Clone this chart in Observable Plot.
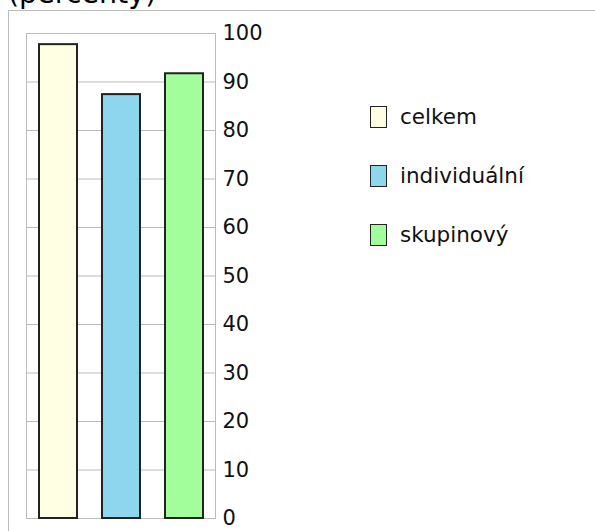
<!DOCTYPE html>
<html>
<head>
<meta charset="utf-8">
<script src="https://cdn.jsdelivr.net/npm/d3@7"></script>
<script src="https://cdn.jsdelivr.net/npm/@observablehq/plot@0.6"></script>
<style>
  html, body { margin: 0; padding: 0; background: #fff; }
  body { width: 595px; height: 531px; overflow: hidden; position: relative; font-family: "DejaVu Sans", Verdana, sans-serif; }
  #title { position: absolute; left: 8px; top: -21px; font-size: 28.5px; line-height: 30px; white-space: nowrap; color: #000; }
  #frame { position: absolute; left: 8px; top: 10px; width: 600px; height: 540px; border-left: 1px solid #bbb; border-top: 1px solid #bbb; box-sizing: border-box; }
  #chart { position: absolute; left: 0; top: 0; }
  .leg { position: absolute; left: 370px; display: flex; align-items: center; font-size: 21.5px; color: #111; }
  .sw { width: 15px; height: 20px; border: 1.6px solid #222; margin-right: 13px; }
</style>
</head>
<body>
<div id="title">(percenty)</div>
<div id="frame"></div>
<div id="chart"></div>
<div id="legend"></div>
<script>
const categories = ["celkem", "individuální", "skupinový"];
const values = [97.7, 87.4, 91.7];
const colors = ["#ffffe4", "#8dd6ee", "#a2fe9a"];
const yTicks = [0, 10, 20, 30, 40, 50, 60, 70, 80, 90, 100];

const data = categories.map((c, i) => ({category: c, value: values[i]}));

const chart = Plot.plot({
  width: 595,
  height: 531,
  marginLeft: 26,
  marginRight: 380,
  marginTop: 33,
  marginBottom: 13,
  style: {fontFamily: "DejaVu Sans, Verdana, sans-serif", background: "transparent"},
  x: {domain: categories, paddingInner: 0.4, paddingOuter: 0.2, axis: null},
  y: {domain: [0, 100], axis: null},
  color: {domain: categories, range: colors},
  marks: [
    Plot.gridY(yTicks, {stroke: "#bbb", strokeOpacity: 1, strokeWidth: 1}),
    Plot.frame({stroke: "#bbb", strokeWidth: 1}),
    Plot.barY(data, {x: "category", y: "value", fill: "category", stroke: "#222", strokeWidth: 2}),
    Plot.axisY(yTicks, {anchor: "right", label: null, tickSize: 0, tickPadding: 7, fontSize: 21, fill: "#111", tickFormat: d => String(d)})
  ]
});
document.getElementById("chart").appendChild(chart);

const legendTops = [104, 163, 222];
const legend = document.getElementById("legend");
categories.forEach((c, i) => {
  const row = document.createElement("div");
  row.className = "leg";
  row.style.top = legendTops[i] + "px";
  const sw = document.createElement("div");
  sw.className = "sw";
  sw.style.background = colors[i];
  const t = document.createElement("span");
  t.textContent = c;
  row.appendChild(sw);
  row.appendChild(t);
  legend.appendChild(row);
});
</script>
</body>
</html>
